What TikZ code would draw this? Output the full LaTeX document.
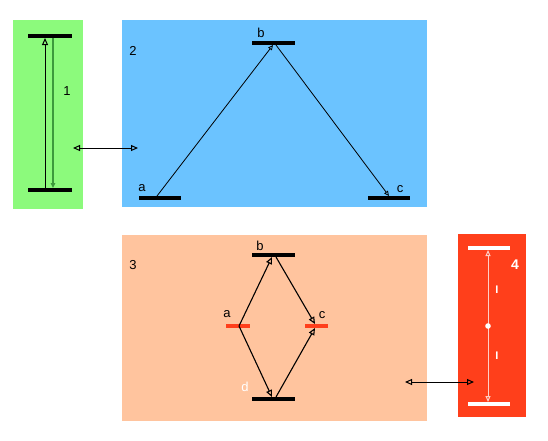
\documentclass[tikz,border=0pt]{standalone}
\usepackage{fontspec}
\setmainfont{Liberation Sans}
\usetikzlibrary{arrows.meta}
\definecolor{pgreen}{HTML}{8CFA7C}
\definecolor{pblue}{HTML}{6BC3FF}
\definecolor{ppeach}{HTML}{FFC49E}
\definecolor{pred}{HTML}{FF3F1B}
\definecolor{lgreen}{HTML}{3C9A3C}
\tikzset{
  level/.style={line width=4pt},
  lbl/.style={font=\fontsize{13}{15}\selectfont, inner sep=0pt},
  tri/.style={-{Triangle[open,length=7pt,width=6pt]}},
  tris/.style={-{Triangle[open,length=5pt,width=4.5pt]}},
  dbl/.style={{Triangle[open,length=7pt,width=6pt]}-{Triangle[open,length=7pt,width=6pt]}, line width=1pt},
}
\begin{document}
\begin{tikzpicture}[x=1pt,y=-1pt]
\useasboundingbox (0,0) rectangle (548,440);
\fill[white] (0,0) rectangle (548,440);
% panels
\fill[pgreen] (13,20) rectangle (83,209);
\fill[pblue] (122,20) rectangle (427,207);
\fill[ppeach] (122,235) rectangle (427,421);
\fill[pred] (458,234) rectangle (526,417);
% panel 1
\draw[level] (28,36) -- (72,36);
\draw[level] (28,190) -- (72,190);
\coordinate (g1b) at (45,188);
\coordinate (g1t) at (45,38);
\coordinate (g2t) at (53,38);
\coordinate (g2b) at (53,188);
\draw[tri, line width=1pt] (g1b) -- (g1t);
\draw[tris, lgreen, line width=1.3pt] (g2t) -- (g2b);
\node[lbl] (n1) at (67,91) {1};
% connector 1-2
\coordinate (c12a) at (73,148);
\coordinate (c12b) at (138,148);
\draw[dbl] (c12a) -- (c12b);
% panel 2
\node[lbl] (n2) at (133,51) {2};
\draw[level] (252,43) -- (295,43);
\draw[level] (139,198) -- (181,198);
\draw[level] (368,198) -- (410,198);
\node[lbl] (lb2) at (261,33) {b};
\node[lbl] (la2) at (142,188) {a};
\node[lbl] (lc2) at (400,189) {c};
\coordinate (a2) at (157,196);
\coordinate (b2l) at (273,45);
\coordinate (b2r) at (276,45);
\coordinate (c2) at (389,196);
\draw[tris, line width=0.8pt] (a2) -- (b2l);
\draw[tris, line width=0.8pt] (b2r) -- (c2);
% panel 3
\node[lbl] (n3) at (133,265) {3};
\draw[level] (252,255) -- (295,255);
\draw[level] (252,399) -- (295,399);
\draw[level, pred] (226,326) -- (250,326);
\draw[level, pred] (305,326) -- (328,326);
\node[lbl] (lb3) at (260,246) {b};
\node[lbl] (la3) at (227,314) {a};
\node[lbl] (lc3) at (322,315) {c};
\node[lbl, white] (ld3) at (245,387) {d};
\coordinate (a3) at (239,326);
\coordinate (b3l) at (272,257);
\coordinate (b3r) at (276,257);
\coordinate (c3t) at (315,324);
\coordinate (c3b) at (315,328);
\coordinate (d3l) at (272,397);
\coordinate (d3r) at (276,397);
\draw[tri, line width=1.1pt] (a3) -- (b3l);
\draw[tri, line width=1.1pt] (b3r) -- (c3t);
\draw[tri, line width=1.1pt] (a3) -- (d3l);
\draw[tri, line width=1.1pt] (d3r) -- (c3b);
% connector 3-4
\coordinate (c34a) at (405,382);
\coordinate (c34b) at (474,382);
\draw[dbl] (c34a) -- (c34b);
% panel 4
\draw[level, white] (468,248) -- (510,248);
\draw[level, white] (468,404) -- (510,404);
\coordinate (r4t) at (488,250);
\coordinate (r4b) at (488,402);
\coordinate (r4m) at (488,326);
\draw[white!75!pred, line width=1pt, {Triangle[open,length=6pt,width=5pt]}-{Triangle[open,length=6pt,width=5pt]}] (r4t) -- (r4b);
\fill[white] (r4m) circle (2.8pt);
\node[lbl, white, font=\bfseries\fontsize{14}{16}\selectfont] (n4) at (515,265) {4};
\node[lbl, white, font=\bfseries\fontsize{11}{13}\selectfont] (i1) at (497,290) {I};
\node[lbl, white, font=\bfseries\fontsize{11}{13}\selectfont] (i2) at (497,356) {I};
\end{tikzpicture}
\end{document}
